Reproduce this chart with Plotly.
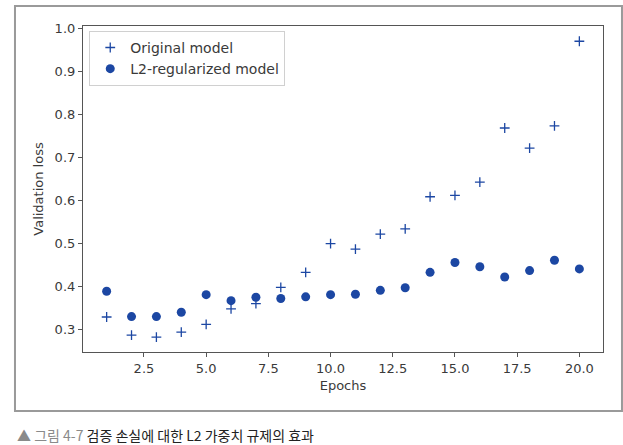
import plotly.graph_objects as go

epochs = list(range(1, 21))
original_loss = [0.329, 0.287, 0.282, 0.294, 0.312, 0.348, 0.360, 0.398, 0.433, 0.500,
                 0.487, 0.522, 0.534, 0.609, 0.612, 0.643, 0.769, 0.722, 0.774, 0.971]
l2_loss = [0.389, 0.330, 0.330, 0.340, 0.381, 0.367, 0.375, 0.372, 0.376, 0.381,
           0.382, 0.391, 0.397, 0.433, 0.456, 0.446, 0.422, 0.437, 0.461, 0.441]
x_ticks = [2.5, 5.0, 7.5, 10.0, 12.5, 15.0, 17.5, 20.0]
y_ticks = [0.3, 0.4, 0.5, 0.6, 0.7, 0.8, 0.9, 1.0]

blue = "#1c47a3"
txt = "#3a3a3a"
font = "DejaVu Sans"

fig = go.Figure()
fig.add_trace(go.Scatter(
    x=epochs, y=original_loss, mode="markers", name="Original model",
    marker=dict(symbol="cross-thin", size=7, line=dict(color=blue, width=1.3), color=blue),
))
fig.add_trace(go.Scatter(
    x=epochs, y=l2_loss, mode="markers", name="L2-regularized model",
    marker=dict(symbol="circle", size=9, color=blue),
))

fig.update_layout(
    width=623, height=445,
    margin=dict(l=83, r=20, t=26, b=93, autoexpand=False),
    paper_bgcolor="white", plot_bgcolor="white",
    font=dict(family=font, size=13, color=txt),
    showlegend=True,
    legend=dict(
        x=0.012, y=0.985, xanchor="left", yanchor="top",
        bgcolor="rgba(255,255,255,0.9)", bordercolor="#d0d0d0", borderwidth=1,
        font=dict(family=font, size=14, color=txt),
        tracegroupgap=0, itemwidth=30,
    ),
    xaxis=dict(
        range=[0.05, 20.95], tickvals=x_ticks, ticktext=[f"{v:.1f}" for v in x_ticks],
        showgrid=False, zeroline=False, showline=True, mirror=True, linecolor="#555", linewidth=1.2,
        ticks="outside", ticklen=4, tickcolor="#555", automargin=False,
        title=dict(text="Epochs", font=dict(family=font, size=13, color=txt), standoff=6),
    ),
    yaxis=dict(
        range=[0.2475, 1.0065], tickvals=y_ticks, ticktext=[f"{v:.1f}" for v in y_ticks],
        showgrid=False, zeroline=False, showline=True, mirror=True, linecolor="#555", linewidth=1.2,
        ticks="outside", ticklen=4, tickcolor="#555", automargin=False,
        title=dict(text="Validation loss", font=dict(family=font, size=13, color=txt), standoff=8),
    ),
)

# outer frame around the figure
fig.add_shape(type="rect", xref="paper", yref="paper",
              x0=-0.1308, x1=1.0365, y0=-0.181, y1=1.0613,
              line=dict(color="#9a9a9a", width=2), fillcolor="rgba(0,0,0,0)", layer="below")

# caption
fig.add_annotation(
    xref="paper", yref="paper", x=-0.1308, y=-0.218, xanchor="left", yanchor="top",
    showarrow=False, align="left",
    text="<span style='color:#8a8a8a'>▲ 그림 4-7</span> <span style='color:#222'>검증 손실에 대한 L2 가중치 규제의 효과</span>",
    font=dict(family="Noto Sans CJK KR", size=14, color="#222"),
)

fig.write_html("out.html", config={"displayModeBar": False},
               post_script="document.body.style.margin='0';document.body.style.overflow='hidden';")
